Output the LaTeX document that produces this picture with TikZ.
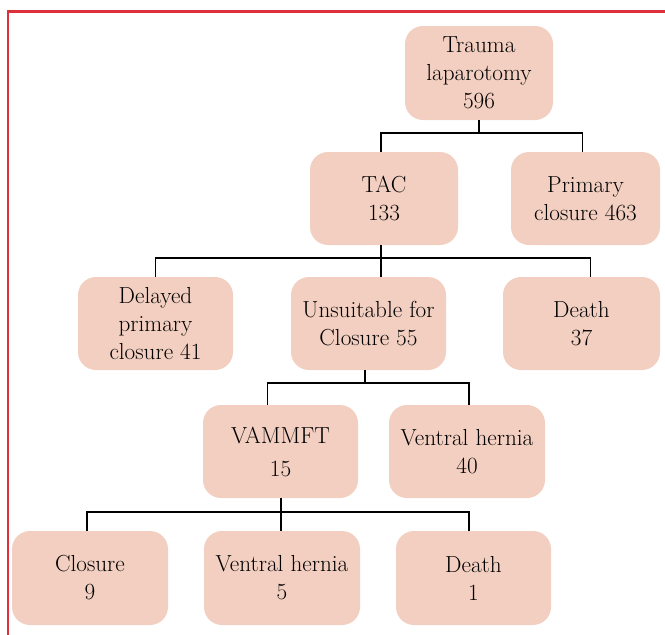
\documentclass[tikz,border=0pt]{standalone}
\usepackage{fontspec}
\definecolor{boxfill}{RGB}{242,207,192}
\definecolor{frame}{RGB}{222,48,58}
\begin{document}
\begin{tikzpicture}[x=1pt,y=-1pt,
  box/.style={fill=boxfill, draw=none, rounded corners=18pt, inner sep=0pt,
    minimum height=93pt, align=center, font=\fontsize{23.2}{28}\selectfont},
  link/.style={draw=black, line width=1.5pt}]
\useasboundingbox (0,0) rectangle (665,635);
\draw[frame, line width=2.2pt] (665,11.5) -- (8,11.5) -- (8,635);

\node[box, minimum width=148pt, minimum height=94pt] (tl) at (479,73) {Trauma\\laparotomy\\596};
\node[box, minimum width=148pt] (tac) at (384,198.5) {TAC\\133};
\node[box, minimum width=149pt] (pc) at (585.5,198.5) {Primary\\closure 463};
\node[box, minimum width=155pt] (dpc) at (155.5,323.5) {Delayed\\primary\\closure 41};
\node[box, minimum width=155pt] (uns) at (368.5,323.5) {Unsuitable for\\Closure 55};
\node[box, minimum width=157pt] (d37) at (581.5,323.5) {Death\\37};
\node[box, minimum width=155pt] (vam) at (280.5,451.5) {VAMMFT\\[5pt]15};
\node[box, minimum width=156pt] (vh40) at (467,451.5) {Ventral hernia\\40};
\node[box, minimum width=156pt, minimum height=94pt] (c9) at (90,578) {Closure\\9};
\node[box, minimum width=156pt, minimum height=94pt] (vh5) at (282,578) {Ventral hernia\\5};
\node[box, minimum width=155pt, minimum height=94pt] (d1) at (473.5,578) {Death\\1};

% level 1
\coordinate (j1) at (479,133);
\draw[link] (tl.south) -- (j1);
\draw[link] (j1) -| ([xshift=-3pt]tac.north);
\draw[link] (j1) -| ([xshift=-3pt]pc.north);
% level 2
\coordinate (j2) at (381,258);
\draw[link] (j2 |- tac.south) -- (j2 |- uns.north);
\draw[link] (j2) -| (dpc.north);
\draw[link] (j2) -| ([xshift=9pt]d37.north);
% level 3
\coordinate (j3) at (365,383);
\draw[link] (j3 |- uns.south) -- (j3);
\draw[link] (j3) -| ([xshift=-13pt]vam.north);
\draw[link] (j3) -| ([xshift=2pt]vh40.north);
% level 4
\coordinate (j4) at (281,512);
\draw[link] (j4 |- vam.south) -- (j4 |- vh5.north);
\draw[link] (j4) -| ([xshift=-3pt]c9.north);
\draw[link] (j4) -| ([xshift=-4.5pt]d1.north);
\end{tikzpicture}
\end{document}
